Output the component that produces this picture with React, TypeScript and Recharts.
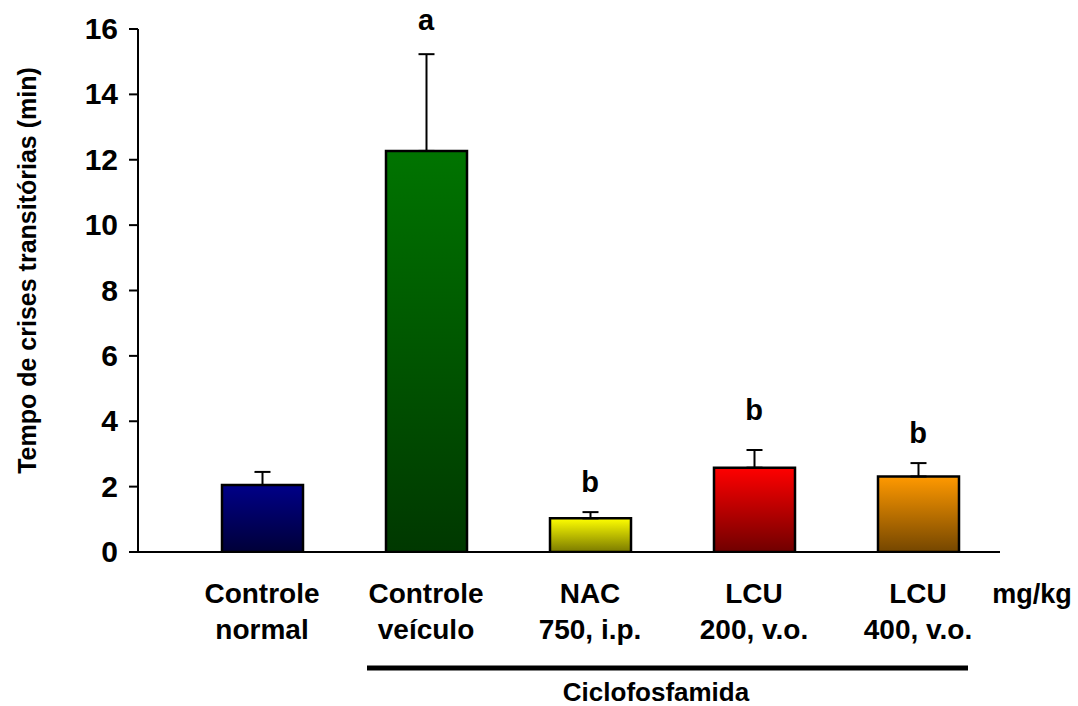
import React from 'react';
import { BarChart, Bar, XAxis, YAxis, ErrorBar, Cell, ReferenceDot } from 'recharts';

const groups = ['Controle normal', 'Controle veículo', 'NAC 750, i.p.', 'LCU 200, v.o.', 'LCU 400, v.o.'];
const labelTop = ['Controle', 'Controle', 'NAC', 'LCU', 'LCU'];
const labelBottom = ['normal', 'veículo', '750, i.p.', '200, v.o.', '400, v.o.'];
const means = [2.05, 12.27, 1.03, 2.58, 2.31];
const sems = [0.4, 2.96, 0.19, 0.54, 0.41];
const letters = ['', 'a', 'b', 'b', 'b'];
const letterPos = [0, 16.27, 2.14, 4.34, 3.64];
const yTicks = [0, 2, 4, 6, 8, 10, 12, 14, 16];
const topColors = ['#000088', '#007400', '#ffff00', '#ff0000', '#ff9900'];
const bottomColors = ['#000038', '#003800', '#7a7a00', '#700000', '#744600'];

const data = groups.map((g, i) => ({
  group: g,
  mean: means[i],
  err: [0, sems[i]],
}));

const font = '"Liberation Sans", Arial, sans-serif';

function GroupTick(props: any) {
  const { x, y, index } = props;
  return (
    <g>
      <text x={x} y={y + 51} textAnchor="middle" fontFamily={font} fontWeight="bold" fontSize={28} fill="#000">
        {labelTop[index]}
      </text>
      <text x={x} y={y + 87} textAnchor="middle" fontFamily={font} fontWeight="bold" fontSize={28} fill="#000">
        {labelBottom[index]}
      </text>
      {index >= 1 && (
        <line
          x1={index === 1 ? x - 59 : x - 82}
          x2={index === 4 ? x + 50 : x + 82}
          y1={y + 116}
          y2={y + 116}
          stroke="#000"
          strokeWidth={5}
        />
      )}
      {index === 2 && (
        <text x={x + 66} y={y + 149} textAnchor="middle" fontFamily={font} fontWeight="bold" fontSize={26} fill="#000">
          Ciclofosfamida
        </text>
      )}
      {index === 4 && (
        <text x={x + 114} y={y + 51} textAnchor="middle" fontFamily={font} fontWeight="bold" fontSize={27} fill="#000">
          mg/kg
        </text>
      )}
    </g>
  );
}

function ValueTick(props: any) {
  const { x, y, payload } = props;
  return (
    <text x={x} y={y} dy={10} textAnchor="end" fontFamily={font} fontWeight="bold" fontSize={30} fill="#000">
      {payload.value}
    </text>
  );
}

function YTitle(props: any) {
  const { viewBox } = props;
  const cx = 36;
  const cy = viewBox.y + viewBox.height / 2 - 20;
  return (
    <text
      x={cx}
      y={cy}
      transform={`rotate(-90, ${cx}, ${cy})`}
      textAnchor="middle"
      fontFamily={font}
      fontWeight="bold"
      fontSize={25}
      fill="#000"
    >
      Tempo de crises transitórias (min)
    </text>
  );
}

export default function App() {
  return (
    <div style={{ position: 'absolute', left: 0, top: 0, width: 1078, height: 706, background: '#fff' }}>
      <BarChart width={1078} height={706} data={data} margin={{ top: 29, right: 78, bottom: 0, left: 0 }}>
        <defs>
          {groups.map((g, i) => (
            <linearGradient key={g} id={`grad${i}`} x1="0" y1="0" x2="0" y2="1">
              <stop offset="0%" stopColor={topColors[i]} />
              <stop offset="100%" stopColor={bottomColors[i]} />
            </linearGradient>
          ))}
        </defs>
        <XAxis
          dataKey="group"
          height={154}
          padding={{ left: 42, right: 0 }}
          tickLine={false}
          tickSize={0}
          tickMargin={0}
          interval={0}
          axisLine={{ stroke: '#000', strokeWidth: 2 }}
          tick={<GroupTick />}
        />
        <YAxis
          width={138}
          domain={[0, 16]}
          ticks={yTicks}
          allowDataOverflow
          tickSize={9}
          tickMargin={11}
          axisLine={{ stroke: '#000', strokeWidth: 2 }}
          tickLine={{ stroke: '#000', strokeWidth: 2 }}
          tick={<ValueTick />}
          label={{ content: <YTitle /> }}
        />
        <Bar dataKey="mean" barSize={81} stroke="#000" strokeWidth={2.5} isAnimationActive={false}>
          {groups.map((g, i) => (
            <Cell key={g} fill={`url(#grad${i})`} />
          ))}
          <ErrorBar dataKey="err" direction="y" width={8} stroke="#000" strokeWidth={2} isAnimationActive={false} />
        </Bar>
        {groups.map((g, i) =>
          letters[i] ? (
            <ReferenceDot
              key={g}
              x={g}
              y={letterPos[i]}
              r={0}
              fill="none"
              stroke="none"
              ifOverflow="visible"
              label={{
                value: letters[i],
                position: 'center',
                fontFamily: font,
                fontWeight: 'bold',
                fontSize: 29,
                fill: '#000',
              }}
            />
          ) : null
        )}
      </BarChart>
    </div>
  );
}
